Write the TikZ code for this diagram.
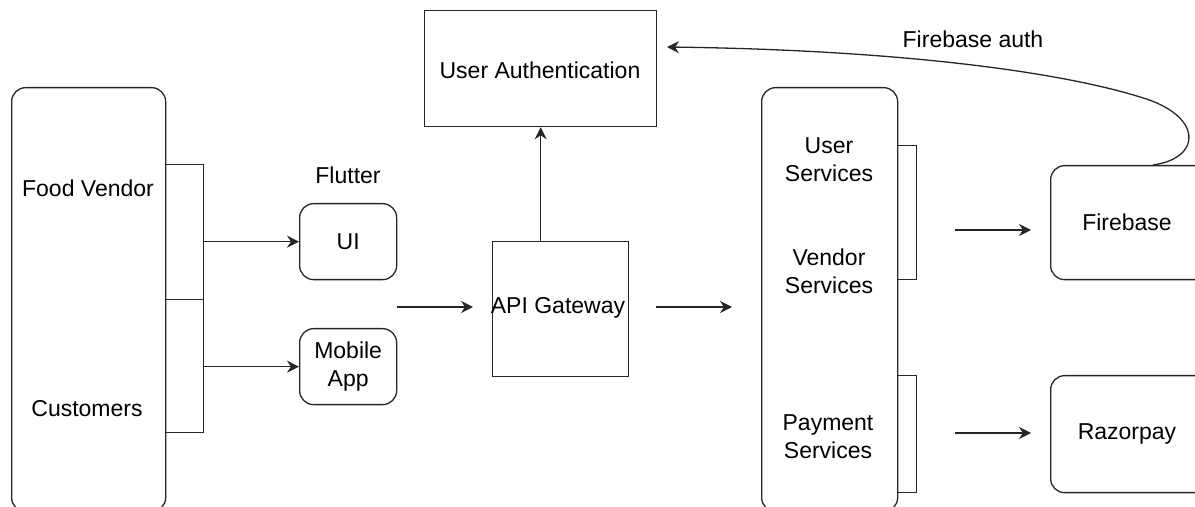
\documentclass[tikz,border=0pt]{standalone}
\usepackage{fontspec}
\setmainfont{Liberation Sans}
\usetikzlibrary{arrows.meta}
\begin{document}
\begin{tikzpicture}[x=0.5pt,y=-0.5pt,
  every node/.style={font=\fontsize{11.5}{14}\selectfont},
  box/.style={draw=black!85, line width=0.65pt, inner sep=0pt},
  rbox/.style={box, rounded corners=7pt},
  tab/.style={draw=black!85, line width=0.65pt, inner sep=0pt},
  lbl/.style={align=center, inner sep=1pt},
  arr/.style={draw=black!85, line width=0.65pt, -{Stealth[length=6pt,width=6pt,inset=2pt]}}
]
\useasboundingbox (0,0) rectangle (1195,507);
\clip (0,0) rectangle (1195,507);
% left column
\node[rbox, minimum width=77pt, minimum height=212pt, anchor=north west] (clients) at (11,87) {};
\node[lbl] (fv) at (88,188) {Food Vendor};
\node[lbl] (cu) at (87,409) {Customers};
\node[tab, minimum width=19pt, minimum height=67.5pt, anchor=north west] (tabfv) at (165,164) {};
\node[tab, minimum width=19pt, minimum height=66.5pt, anchor=north west] (tabcu) at (165,299) {};
% flutter
\node[lbl] (flutter) at (348,175) {Flutter};
\node[rbox, minimum width=48.5pt, minimum height=38pt, anchor=north west] (ui) at (299,203) {UI};
\node[rbox, minimum width=48.5pt, minimum height=38pt, anchor=north west, align=center] (mob) at (299,328) {Mobile\\App};
\draw[arr] (tabfv.east |- ui.west) -- (ui.west);
\draw[arr] (tabcu.east |- mob.west) -- (mob.west);
% gateway
\node[box, minimum width=68pt, minimum height=67.5pt, anchor=north west] (api) at (492,241) {};
\node[lbl] at (558,308) {API Gateway};
\node[box, minimum width=116pt, minimum height=58pt, anchor=north west] (auth) at (424,10) {};
\node[lbl] at (540,70) {User Authentication};
\draw[arr] (auth.south |- api.north) -- (auth.south);
\coordinate (a1s) at (397,307);
\coordinate (a1e) at (473,307);
\draw[arr] (a1s) -- (a1e);
\coordinate (a2s) at (656,307);
\coordinate (a2e) at (732,307);
\draw[arr] (a2s) -- (a2e);
% services
\node[rbox, minimum width=68pt, minimum height=212pt, anchor=north west] (svc) at (761,87) {};
\node[tab, minimum width=9.5pt, minimum height=67pt, anchor=north west] (tabs1) at (897,145) {};
\node[tab, minimum width=9.5pt, minimum height=58.5pt, anchor=north west] (tabs2) at (897,375) {};
\node[lbl] (us) at (829,160) {User\\Services};
\node[lbl] (vs) at (829,271) {Vendor\\Services};
\node[lbl] (ps) at (828,437) {Payment\\Services};
% right
\node[rbox, minimum width=80pt, minimum height=57pt, anchor=north west] (fb) at (1050,165) {};
\node[lbl] at (1127,222) {Firebase};
\node[rbox, minimum width=80pt, minimum height=58.5pt, anchor=north west] (rp) at (1050,375) {};
\node[lbl] at (1127,434) {Razorpay};
\coordinate (a3s) at (955,230);
\coordinate (a3e) at (1031,230);
\draw[arr] (a3s) -- (a3e);
\coordinate (a4s) at (955,433);
\coordinate (a4e) at (1031,433);
\draw[arr] (a4s) -- (a4e);
% curve
\coordinate (fbtop) at (1153,165);
\coordinate (authin) at (667,47);
\draw[arr] (fbtop) .. controls (1203,158) and (1203,115) .. (1140,97)
  .. controls (1060,72) and (900,50) .. (authin);
\node[lbl] (fbauth) at (973,39) {Firebase auth};
\end{tikzpicture}
\end{document}
